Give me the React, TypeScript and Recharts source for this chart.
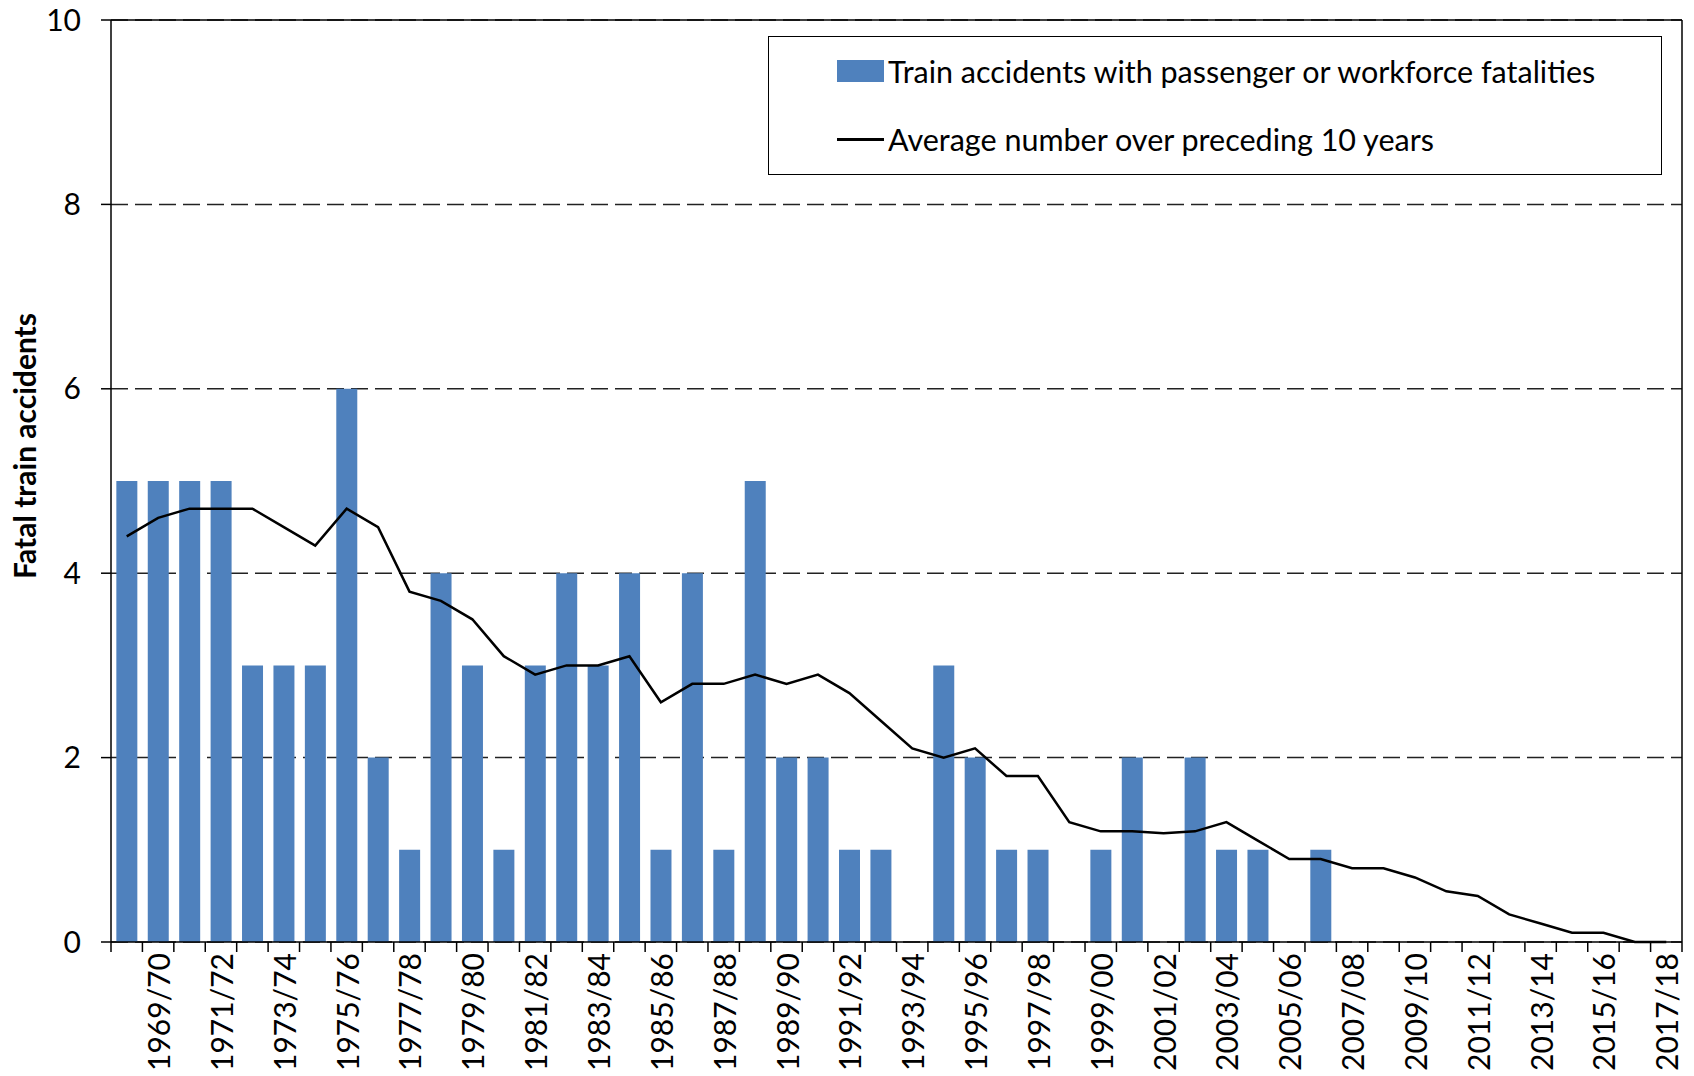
import React from 'react';
import {
  ComposedChart,
  Bar,
  Line,
  XAxis,
  YAxis,
  CartesianGrid,
  ReferenceLine,
} from 'recharts';

// ---- data ----

const YEARS = [
  '1968/69', '1969/70', '1970/71', '1971/72', '1972/73', '1973/74', '1974/75', '1975/76', '1976/77', '1977/78',
  '1978/79', '1979/80', '1980/81', '1981/82', '1982/83', '1983/84', '1984/85', '1985/86', '1986/87', '1987/88',
  '1988/89', '1989/90', '1990/91', '1991/92', '1992/93', '1993/94', '1994/95', '1995/96', '1996/97', '1997/98',
  '1998/99', '1999/00', '2000/01', '2001/02', '2002/03', '2003/04', '2004/05', '2005/06', '2006/07', '2007/08',
  '2008/09', '2009/10', '2010/11', '2011/12', '2012/13', '2013/14', '2014/15', '2015/16', '2016/17', '2017/18',
];

const ACCIDENTS = [
  5, 5, 5, 5, 3, 3, 3, 6, 2, 1,
  4, 3, 1, 3, 4, 3, 4, 1, 4, 1,
  5, 2, 2, 1, 1, 0, 3, 2, 1, 1,
  0, 1, 2, 0, 2, 1, 1, 0, 1, 0,
  0, 0, 0, 0, 0, 0, 0, 0, 0, 0,
];

const TEN_YEAR_AVG = [
  4.4, 4.6, 4.7, 4.7, 4.7, 4.5, 4.3, 4.7, 4.5, 3.8,
  3.7, 3.5, 3.1, 2.9, 3.0, 3.0, 3.1, 2.6, 2.8, 2.8,
  2.9, 2.8, 2.9, 2.7, 2.4, 2.1, 2.0, 2.1, 1.8, 1.8,
  1.3, 1.2, 1.2, 1.18, 1.2, 1.3, 1.1, 0.9, 0.9, 0.8,
  0.8, 0.7, 0.55, 0.5, 0.3, 0.2, 0.1, 0.1, 0, 0,
];

const Y_TICKS = [0, 2, 4, 6, 8, 10];

const BAR_NAME = 'Train accidents with passenger or workforce fatalities';
const LINE_NAME = 'Average number over preceding 10 years';
const Y_TITLE = 'Fatal train accidents';

const BAR_COLOR = '#4F81BD';
const FONT = 'Lato, "Open Sans", sans-serif';

const data = YEARS.map((year, i) => ({
  year,
  accidents: ACCIDENTS[i],
  avg: TEN_YEAR_AVG[i],
}));

// tick marks sit on the category boundaries (Excel style), labels on every 2nd year
const YearTick = (props: any) => {
  const { x, y, payload } = props;
  const idx = payload?.index ?? props.index;
  const half = payload?.offset ?? 15.7;
  const last = idx === YEARS.length - 1;
  const ty = y + 11;
  return (
    <g>
      <line x1={x - half} x2={x - half} y1={y} y2={y + 10} stroke="#000" strokeWidth={1.5} />
      {last && <line x1={x + half} x2={x + half} y1={y} y2={y + 10} stroke="#000" strokeWidth={1.5} />}
      {idx % 2 === 1 && (
        <text
          x={x}
          y={ty}
          transform={`rotate(-90, ${x}, ${ty})`}
          textAnchor="end"
          dominantBaseline="central"
          fontFamily={FONT}
          fontSize={30}
          fill="#000"
        >
          {payload.value}
        </text>
      )}
    </g>
  );
};

// legend drawn as an overlay box, like the Excel original
const LegendBox = () => (
  <div
    style={{
      position: 'absolute',
      left: 768,
      top: 36,
      width: 894,
      height: 139,
      boxSizing: 'border-box',
      border: '1.5px solid #000',
      background: '#fff',
      fontFamily: FONT,
      fontSize: 30.5,
      color: '#000',
    }}
  >
    <div style={{ position: 'absolute', left: 68, top: 34, transform: 'translateY(-50%)', display: 'flex', alignItems: 'center', whiteSpace: 'nowrap' }}>
      <span style={{ display: 'inline-block', width: 47, height: 22, background: BAR_COLOR, marginRight: 4 }} />
      <span>{BAR_NAME}</span>
    </div>
    <div style={{ position: 'absolute', left: 68, top: 102, transform: 'translateY(-50%)', display: 'flex', alignItems: 'center', whiteSpace: 'nowrap' }}>
      <span style={{ display: 'inline-block', width: 47, height: 3, background: '#000', marginRight: 4 }} />
      <span>{LINE_NAME}</span>
    </div>
  </div>
);

export default function App() {
  return (
    <div style={{ position: 'absolute', left: 0, top: 0, width: 1694, height: 1076, background: '#fff' }}>
      <ComposedChart
        width={1694}
        height={1076}
        data={data}
        margin={{ top: 20, right: 11, left: 0, bottom: 0 }}
        barCategoryGap="17%"
      >
        <CartesianGrid yAxisId="left" vertical={false} stroke="#222" strokeWidth={1.5} strokeDasharray="17 7" />
        <XAxis
          dataKey="year"
          interval={0}
          tickLine={false}
          tickSize={0}
          tickMargin={0}
          height={134}
          axisLine={{ stroke: '#000', strokeWidth: 1.5 }}
          tick={<YearTick />}
        />
        <YAxis
          yAxisId="left"
          domain={[0, 10]}
          ticks={Y_TICKS}
          width={111}
          tickSize={10}
          tickMargin={20}
          axisLine={{ stroke: '#000', strokeWidth: 1.5 }}
          tickLine={{ stroke: '#000', strokeWidth: 1.5 }}
          tick={{ fill: '#000', fontFamily: FONT, fontSize: 30 }}
          label={{
            content: ({ viewBox }: any) => {
              const cx = 24;
              const cy = viewBox.y + viewBox.height / 2 - 35;
              return (
                <text
                  x={cx}
                  y={cy}
                  transform={`rotate(-90, ${cx}, ${cy})`}
                  textAnchor="middle"
                  dominantBaseline="central"
                  fontFamily={FONT}
                  fontWeight="bold"
                  fontSize={30}
                  fill="#000"
                >
                  {Y_TITLE}
                </text>
              );
            },
          }}
        />
        <YAxis
          yAxisId="right"
          orientation="right"
          width={1}
          tick={false}
          tickLine={false}
          axisLine={{ stroke: '#000', strokeWidth: 1.5 }}
        />
        <ReferenceLine yAxisId="left" y={10} stroke="#000" strokeWidth={1.5} />
        <Bar yAxisId="left" dataKey="accidents" name={BAR_NAME} fill={BAR_COLOR} isAnimationActive={false} />
        <Line
          yAxisId="left"
          type="linear"
          dataKey="avg"
          name={LINE_NAME}
          stroke="#000"
          strokeWidth={2.5}
          dot={false}
          activeDot={false}
          isAnimationActive={false}
        />
      </ComposedChart>
      <LegendBox />
    </div>
  );
}
